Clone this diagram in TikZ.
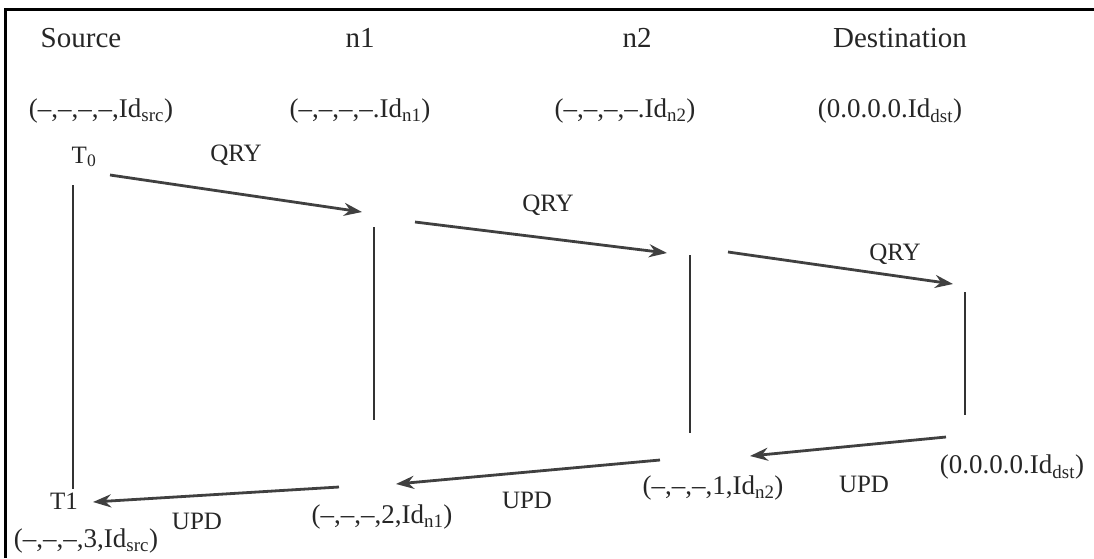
\documentclass[tikz,border=0pt]{standalone}
\usepackage{fontspec}
\setmainfont{Liberation Serif}
\usetikzlibrary{arrows.meta}
\begin{document}
\begin{tikzpicture}[x=1pt,y=-1pt,
  lbl/.style={font=\fontsize{25}{30}\selectfont, inner sep=0pt, text=black!85},
  tup/.style={font=\fontsize{27}{32}\selectfont, inner sep=0pt, text=black!85},
  hdr/.style={font=\fontsize{29}{34}\selectfont, inner sep=0pt, text=black!85},
  msg/.style={draw=black!75, line width=2.8pt, -{Stealth[length=18pt,width=13pt]}},
  life/.style={draw=black!80, line width=1.5pt},
  frame/.style={draw=black, line width=3pt}]
\useasboundingbox (0,0) rectangle (1094,558);
\draw[frame] (5,558) -- (5,9) -- (1094,9);
% headers
\node[hdr] (hsrc) at (81,38) {Source};
\node[hdr] (hn1) at (360,38) {n1};
\node[hdr] (hn2) at (637,38) {n2};
\node[hdr] (hdst) at (900,38) {Destination};
% initial states
\node[tup] (ssrc) at (101,111) {(–,–,–,–,Id\textsubscript{src})};
\node[tup] (sn1) at (360,111) {(–,–,–,–.Id\textsubscript{n1})};
\node[tup] (sn2) at (625,111) {(–,–,–,–.Id\textsubscript{n2})};
\node[tup] (sdst) at (890,111) {(0.0.0.0.Id\textsubscript{dst})};
% times
\node[lbl] (t0) at (84,157) {T\textsubscript{0}};
\node[lbl] (t1) at (64,501) {T1};
% lifelines
\coordinate (l0a) at (73,185); \coordinate (l0b) at (73,489);
\coordinate (l1a) at (374,227); \coordinate (l1b) at (374,420);
\coordinate (l2a) at (690,255); \coordinate (l2b) at (690,433);
\coordinate (l3a) at (965,292); \coordinate (l3b) at (965,415);
\draw[life] (l0a) -- (l0b);
\draw[life] (l1a) -- (l1b);
\draw[life] (l2a) -- (l2b);
\draw[life] (l3a) -- (l3b);
% queries
\coordinate (q1a) at (110,175); \coordinate (q1b) at (362,212);
\coordinate (q2a) at (415,222); \coordinate (q2b) at (667,253);
\coordinate (q3a) at (728,252); \coordinate (q3b) at (953,284);
\draw[msg] (q1a) -- (q1b);
\draw[msg] (q2a) -- (q2b);
\draw[msg] (q3a) -- (q3b);
\node[lbl] (qry1) at (236,155) {QRY};
\node[lbl] (qry2) at (548,205) {QRY};
\node[lbl] (qry3) at (895,254) {QRY};
% updates
\coordinate (u1a) at (946,437); \coordinate (u1b) at (750,456);
\coordinate (u2a) at (660,460); \coordinate (u2b) at (396,484);
\coordinate (u3a) at (339,487); \coordinate (u3b) at (93,502);
\draw[msg] (u1a) -- (u1b);
\draw[msg] (u2a) -- (u2b);
\draw[msg] (u3a) -- (u3b);
\node[lbl] (upd1) at (864,484) {UPD};
\node[lbl] (upd2) at (527,500) {UPD};
\node[lbl] (upd3) at (197,521) {UPD};
% final states
\node[tup] (fdst) at (1012,467) {(0.0.0.0.Id\textsubscript{dst})};
\node[tup] (fn2) at (713,488) {(–,–,–,1,Id\textsubscript{n2})};
\node[tup] (fn1) at (382,517) {(–,–,–,2,Id\textsubscript{n1})};
\node[tup] (fsrc) at (86,541) {(–,–,–,3,Id\textsubscript{src})};
\end{tikzpicture}
\end{document}
